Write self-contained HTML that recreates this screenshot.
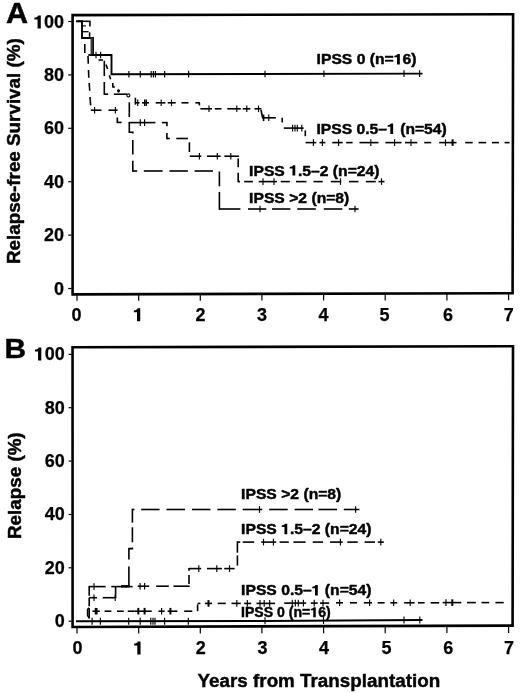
<!DOCTYPE html>
<html><head><meta charset="utf-8"><title>Figure</title>
<style>
html,body{margin:0;padding:0;background:#fff;}
body{width:520px;height:693px;overflow:hidden;font-family:"Liberation Sans",sans-serif;}
svg{display:block;}
</style></head>
<body>
<svg width="520" height="693" viewBox="0 0 520 693">
<rect x="0" y="0" width="520" height="693" fill="#fff"/>
<g stroke="#000" fill="none" stroke-linecap="butt">
<polygon points="72.6,15.1 513.1,14.3 512.6,293.2 72.6,294.4" stroke-width="2.6" stroke-linejoin="miter"/>
<polygon points="72.55,347.3 513,346.3 512.6,625.6 72.6,627" stroke-width="2.6" stroke-linejoin="miter"/>
<line x1="68.2" y1="21.5" x2="71.5" y2="21.5" stroke-width="1.2"/>
<line x1="68.2" y1="74.9" x2="71.5" y2="74.9" stroke-width="1.2"/>
<line x1="68.2" y1="128.3" x2="71.5" y2="128.3" stroke-width="1.2"/>
<line x1="68.2" y1="181.7" x2="71.5" y2="181.7" stroke-width="1.2"/>
<line x1="68.2" y1="235.1" x2="71.5" y2="235.1" stroke-width="1.2"/>
<line x1="68.2" y1="288.5" x2="71.5" y2="288.5" stroke-width="1.2"/>
<line x1="68.6" y1="354.4" x2="71.5" y2="354.4" stroke-width="1.2"/>
<line x1="68.6" y1="407.7" x2="71.5" y2="407.7" stroke-width="1.2"/>
<line x1="68.6" y1="461.1" x2="71.5" y2="461.1" stroke-width="1.2"/>
<line x1="68.6" y1="514.5" x2="71.5" y2="514.5" stroke-width="1.2"/>
<line x1="68.6" y1="567.8" x2="71.5" y2="567.8" stroke-width="1.2"/>
<line x1="68.6" y1="621.2" x2="71.5" y2="621.2" stroke-width="1.2"/>
<line x1="77.0" y1="294.5" x2="77.0" y2="300.8" stroke-width="1.2"/>
<line x1="77.0" y1="627.5" x2="77.0" y2="633.6" stroke-width="1.2"/>
<line x1="138.7" y1="294.3" x2="138.7" y2="300.7" stroke-width="1.2"/>
<line x1="138.7" y1="627.3" x2="138.7" y2="633.5" stroke-width="1.2"/>
<line x1="200.3" y1="294.2" x2="200.3" y2="300.7" stroke-width="1.2"/>
<line x1="200.3" y1="627.1" x2="200.3" y2="633.4" stroke-width="1.2"/>
<line x1="261.9" y1="294.0" x2="261.9" y2="300.6" stroke-width="1.2"/>
<line x1="261.9" y1="626.9" x2="261.9" y2="633.3" stroke-width="1.2"/>
<line x1="323.6" y1="293.8" x2="323.6" y2="300.5" stroke-width="1.2"/>
<line x1="323.6" y1="626.7" x2="323.6" y2="633.3" stroke-width="1.2"/>
<line x1="385.2" y1="293.6" x2="385.2" y2="300.4" stroke-width="1.2"/>
<line x1="385.2" y1="626.5" x2="385.2" y2="633.2" stroke-width="1.2"/>
<line x1="446.9" y1="293.5" x2="446.9" y2="300.4" stroke-width="1.2"/>
<line x1="446.9" y1="626.3" x2="446.9" y2="633.1" stroke-width="1.2"/>
<line x1="508.6" y1="293.3" x2="508.6" y2="300.3" stroke-width="1.2"/>
<line x1="508.6" y1="626.1" x2="508.6" y2="633.0" stroke-width="1.2"/>
<path d="M76.5,21.3 H82 V38 H93 V55 H111.5 V74.3 L422.5,73.6" stroke-width="1.9"/>
<line x1="128.9" y1="71.0" x2="128.9" y2="77.6" stroke-width="1.15"/>
<line x1="140.3" y1="70.9" x2="140.3" y2="77.5" stroke-width="1.15"/>
<line x1="151.2" y1="70.9" x2="151.2" y2="77.5" stroke-width="1.15"/>
<line x1="153.4" y1="70.9" x2="153.4" y2="77.5" stroke-width="1.15"/>
<line x1="155.4" y1="70.9" x2="155.4" y2="77.5" stroke-width="1.15"/>
<line x1="164.6" y1="70.9" x2="164.6" y2="77.5" stroke-width="1.15"/>
<line x1="188.6" y1="70.8" x2="188.6" y2="77.4" stroke-width="1.15"/>
<line x1="265.0" y1="70.7" x2="265.0" y2="77.3" stroke-width="1.15"/>
<line x1="323.9" y1="70.5" x2="323.9" y2="77.1" stroke-width="1.15"/>
<line x1="404.0" y1="70.3" x2="404.0" y2="76.9" stroke-width="1.15"/>
<line x1="419.6" y1="70.3" x2="419.6" y2="76.9" stroke-width="1.15"/>
<line x1="96.0" y1="51.7" x2="96.0" y2="58.3" stroke-width="1.15"/>
<line x1="100.6" y1="51.7" x2="100.6" y2="58.3" stroke-width="1.15"/>
<line x1="76.0" y1="21.3" x2="90.5" y2="21.3" stroke-width="1.6"/>
<line x1="89.9" y1="21.3" x2="89.9" y2="26.4" stroke-width="1.6"/>
<line x1="89.6" y1="32.4" x2="89.6" y2="36.8" stroke-width="1.6"/>
<line x1="82.5" y1="25.9" x2="86.0" y2="25.9" stroke-width="1.1"/>
<line x1="82.5" y1="31.7" x2="88.6" y2="31.7" stroke-width="1.3"/>
<line x1="91.7" y1="37.5" x2="91.7" y2="54.6" stroke-width="2.4" stroke="#3a3a3a"/>
<line x1="84.8" y1="43.9" x2="84.8" y2="52.9" stroke-width="1.6"/>
<line x1="88.3" y1="55.0" x2="93.0" y2="55.0" stroke-width="1.9"/>
<line x1="88.0" y1="56.0" x2="88.3" y2="63.8" stroke-width="1.6"/>
<line x1="88.5" y1="70.0" x2="88.8" y2="77.7" stroke-width="1.6"/>
<line x1="89.2" y1="83.0" x2="89.7" y2="90.8" stroke-width="1.6"/>
<line x1="90.0" y1="97.0" x2="90.6" y2="105.4" stroke-width="1.6"/>
<line x1="90.8" y1="110.2" x2="101.5" y2="110.2" stroke-width="1.6"/>
<line x1="94.6" y1="106.9" x2="94.6" y2="113.5" stroke-width="1.15"/>
<line x1="108.5" y1="110.2" x2="117.7" y2="110.2" stroke-width="1.6"/>
<line x1="115.4" y1="106.9" x2="115.4" y2="113.5" stroke-width="1.15"/>
<line x1="117.3" y1="117.5" x2="117.3" y2="123.1" stroke-width="1.6"/>
<line x1="117.3" y1="122.4" x2="121.6" y2="122.4" stroke-width="1.6"/>
<line x1="128.5" y1="122.6" x2="155.4" y2="122.6" stroke-width="1.6"/>
<line x1="140.3" y1="119.3" x2="140.3" y2="125.9" stroke-width="1.15"/>
<line x1="144.6" y1="119.3" x2="144.6" y2="125.9" stroke-width="1.15"/>
<line x1="161.8" y1="122.6" x2="167.6" y2="122.6" stroke-width="1.6"/>
<line x1="166.9" y1="122.6" x2="166.9" y2="126.2" stroke-width="1.6"/>
<line x1="166.9" y1="133.0" x2="166.9" y2="139.2" stroke-width="1.6"/>
<line x1="166.9" y1="138.5" x2="169.8" y2="138.5" stroke-width="1.6"/>
<line x1="176.3" y1="138.5" x2="187.9" y2="138.5" stroke-width="1.6"/>
<line x1="189.4" y1="142.3" x2="189.4" y2="152.0" stroke-width="1.6"/>
<line x1="189.8" y1="156.2" x2="201.3" y2="156.2" stroke-width="1.6"/>
<line x1="199.4" y1="152.9" x2="199.4" y2="159.5" stroke-width="1.15"/>
<line x1="207.0" y1="156.2" x2="220.6" y2="156.2" stroke-width="1.6"/>
<line x1="217.3" y1="152.9" x2="217.3" y2="159.5" stroke-width="1.15"/>
<line x1="224.4" y1="156.2" x2="238.9" y2="156.2" stroke-width="1.6"/>
<line x1="230.8" y1="152.9" x2="230.8" y2="159.5" stroke-width="1.15"/>
<line x1="238.2" y1="158.5" x2="238.2" y2="167.3" stroke-width="1.6"/>
<line x1="238.2" y1="172.7" x2="238.2" y2="182.3" stroke-width="1.6"/>
<line x1="238.2" y1="181.6" x2="240.0" y2="181.6" stroke-width="1.6"/>
<line x1="244.2" y1="181.6" x2="252.9" y2="181.6" stroke-width="1.6"/>
<line x1="258.7" y1="181.6" x2="277.0" y2="181.6" stroke-width="1.6"/>
<line x1="263.0" y1="178.3" x2="263.0" y2="184.9" stroke-width="1.15"/>
<line x1="274.0" y1="178.3" x2="274.0" y2="184.9" stroke-width="1.15"/>
<line x1="280.8" y1="181.6" x2="289.8" y2="181.6" stroke-width="1.6"/>
<line x1="296.0" y1="181.6" x2="306.5" y2="181.6" stroke-width="1.6"/>
<line x1="313.5" y1="181.6" x2="322.7" y2="181.6" stroke-width="1.6"/>
<line x1="330.8" y1="181.6" x2="341.2" y2="181.6" stroke-width="1.6"/>
<line x1="340.5" y1="178.3" x2="340.5" y2="184.9" stroke-width="1.15"/>
<line x1="349.0" y1="181.6" x2="358.5" y2="181.6" stroke-width="1.6"/>
<line x1="365.8" y1="181.6" x2="375.8" y2="181.6" stroke-width="1.6"/>
<line x1="381.5" y1="178.3" x2="381.5" y2="184.9" stroke-width="1.15"/>
<line x1="378.5" y1="181.6" x2="384.5" y2="181.6" stroke-width="1.6"/>
<line x1="104.3" y1="60.8" x2="104.3" y2="76.0" stroke-width="1.6"/>
<line x1="104.3" y1="82.0" x2="104.3" y2="94.9" stroke-width="1.6"/>
<line x1="104.3" y1="94.2" x2="108.2" y2="94.2" stroke-width="1.6"/>
<line x1="98.5" y1="60.0" x2="103.0" y2="60.0" stroke-width="1.6"/>
<line x1="113.8" y1="94.2" x2="127.0" y2="94.2" stroke-width="1.6"/>
<circle cx="128.4" cy="95.4" r="1.5" stroke-width="1.1"/>
<line x1="129.3" y1="102.3" x2="129.3" y2="117.0" stroke-width="1.6"/>
<path d="M129.3,123 V132.2 H132.8 V133.6" stroke-width="1.6"/>
<line x1="132.8" y1="140.0" x2="132.8" y2="154.6" stroke-width="1.6"/>
<line x1="132.8" y1="160.8" x2="132.8" y2="171.8" stroke-width="1.6"/>
<line x1="132.8" y1="171.0" x2="137.2" y2="171.0" stroke-width="1.6"/>
<line x1="143.8" y1="171.0" x2="162.6" y2="171.0" stroke-width="1.6"/>
<line x1="169.4" y1="171.0" x2="187.9" y2="171.0" stroke-width="1.6"/>
<line x1="194.6" y1="171.0" x2="212.9" y2="171.0" stroke-width="1.6"/>
<line x1="219.4" y1="171.5" x2="219.4" y2="186.3" stroke-width="1.6"/>
<line x1="219.4" y1="192.0" x2="219.4" y2="209.8" stroke-width="1.6"/>
<line x1="219.4" y1="209.0" x2="240.4" y2="209.0" stroke-width="1.6"/>
<line x1="248.0" y1="209.0" x2="266.3" y2="209.0" stroke-width="1.6"/>
<line x1="260.0" y1="205.7" x2="260.0" y2="212.3" stroke-width="1.15"/>
<line x1="272.0" y1="209.0" x2="290.4" y2="209.0" stroke-width="1.6"/>
<line x1="297.3" y1="209.0" x2="315.8" y2="209.0" stroke-width="1.6"/>
<line x1="323.8" y1="209.0" x2="342.3" y2="209.0" stroke-width="1.6"/>
<line x1="348.8" y1="209.0" x2="358.6" y2="209.0" stroke-width="1.6"/>
<line x1="355.0" y1="205.7" x2="355.0" y2="212.3" stroke-width="1.15"/>
<line x1="106.0" y1="64.6" x2="107.6" y2="69.0" stroke-width="1.6"/>
<line x1="109.3" y1="75.4" x2="110.7" y2="79.2" stroke-width="1.6"/>
<line x1="112.8" y1="83.0" x2="112.8" y2="87.4" stroke-width="1.6"/>
<line x1="112.8" y1="87.0" x2="114.8" y2="87.0" stroke-width="1.6"/>
<line x1="118.5" y1="89.2" x2="118.5" y2="92.6" stroke-width="1.6"/>
<line x1="117.0" y1="90.8" x2="120.0" y2="90.8" stroke-width="1.6"/>
<line x1="135.4" y1="97.7" x2="135.4" y2="104.6" stroke-width="1.6"/>
<line x1="135.4" y1="102.8" x2="139.5" y2="102.8" stroke-width="1.6"/>
<line x1="137.7" y1="99.5" x2="137.7" y2="106.1" stroke-width="1.15"/>
<line x1="142.0" y1="102.8" x2="149.0" y2="102.8" stroke-width="1.6"/>
<line x1="144.7" y1="99.5" x2="144.7" y2="106.1" stroke-width="1.4"/>
<line x1="146.3" y1="99.5" x2="146.3" y2="106.1" stroke-width="1.4"/>
<line x1="155.7" y1="102.8" x2="165.4" y2="102.8" stroke-width="1.6"/>
<line x1="161.2" y1="99.5" x2="161.2" y2="106.1" stroke-width="1.15"/>
<line x1="167.7" y1="102.8" x2="175.7" y2="102.8" stroke-width="1.6"/>
<line x1="171.5" y1="99.5" x2="171.5" y2="106.1" stroke-width="1.15"/>
<line x1="181.5" y1="102.8" x2="188.5" y2="102.8" stroke-width="1.6"/>
<line x1="195.4" y1="102.8" x2="199.9" y2="102.8" stroke-width="1.6"/>
<line x1="199.4" y1="102.8" x2="199.4" y2="105.4" stroke-width="1.6"/>
<line x1="200.4" y1="108.8" x2="212.0" y2="108.8" stroke-width="1.6"/>
<line x1="209.0" y1="105.5" x2="209.0" y2="112.1" stroke-width="1.15"/>
<line x1="214.8" y1="108.8" x2="221.5" y2="108.8" stroke-width="1.6"/>
<line x1="227.3" y1="108.8" x2="240.8" y2="108.8" stroke-width="1.6"/>
<line x1="236.8" y1="105.5" x2="236.8" y2="112.1" stroke-width="1.15"/>
<line x1="242.7" y1="108.8" x2="250.4" y2="108.8" stroke-width="1.6"/>
<line x1="246.8" y1="105.5" x2="246.8" y2="112.1" stroke-width="1.15"/>
<line x1="254.5" y1="108.8" x2="261.5" y2="108.8" stroke-width="1.6"/>
<line x1="258.5" y1="105.5" x2="258.5" y2="112.1" stroke-width="1.15"/>
<line x1="261.0" y1="110.0" x2="262.6" y2="117.7" stroke-width="1.6"/>
<line x1="262.0" y1="117.8" x2="275.8" y2="117.8" stroke-width="1.6"/>
<line x1="263.6" y1="114.5" x2="263.6" y2="121.1" stroke-width="1.6"/>
<line x1="268.8" y1="114.5" x2="268.8" y2="121.1" stroke-width="1.15"/>
<line x1="282.2" y1="117.7" x2="282.2" y2="122.5" stroke-width="1.6"/>
<line x1="283.8" y1="128.1" x2="303.6" y2="128.1" stroke-width="1.6"/>
<line x1="292.6" y1="124.8" x2="292.6" y2="131.4" stroke-width="1.15"/>
<line x1="295.0" y1="124.8" x2="295.0" y2="131.4" stroke-width="1.15"/>
<line x1="297.3" y1="124.8" x2="297.3" y2="131.4" stroke-width="1.15"/>
<line x1="301.8" y1="124.8" x2="301.8" y2="131.4" stroke-width="1.15"/>
<line x1="305.3" y1="130.4" x2="305.3" y2="136.2" stroke-width="1.6"/>
<line x1="305.6" y1="142.6" x2="316.2" y2="142.6" stroke-width="1.6"/>
<line x1="313.4" y1="139.3" x2="313.4" y2="145.9" stroke-width="1.15"/>
<line x1="319.5" y1="142.6" x2="325.4" y2="142.6" stroke-width="1.6"/>
<line x1="322.4" y1="139.3" x2="322.4" y2="145.9" stroke-width="1.15"/>
<line x1="332.3" y1="142.6" x2="342.7" y2="142.6" stroke-width="1.6"/>
<line x1="338.6" y1="139.3" x2="338.6" y2="145.9" stroke-width="1.15"/>
<line x1="346.2" y1="142.6" x2="352.6" y2="142.6" stroke-width="1.6"/>
<line x1="359.5" y1="142.6" x2="378.5" y2="142.6" stroke-width="1.6"/>
<line x1="370.8" y1="139.3" x2="370.8" y2="145.9" stroke-width="1.15"/>
<line x1="385.4" y1="142.6" x2="401.5" y2="142.6" stroke-width="1.6"/>
<line x1="394.6" y1="139.3" x2="394.6" y2="145.9" stroke-width="1.15"/>
<line x1="405.0" y1="142.6" x2="417.3" y2="142.6" stroke-width="1.6"/>
<line x1="411.0" y1="139.3" x2="411.0" y2="145.9" stroke-width="1.15"/>
<line x1="424.2" y1="142.6" x2="431.2" y2="142.6" stroke-width="1.6"/>
<line x1="439.2" y1="142.6" x2="456.5" y2="142.6" stroke-width="1.6"/>
<line x1="445.5" y1="139.3" x2="445.5" y2="145.9" stroke-width="1.15"/>
<line x1="452.6" y1="139.3" x2="452.6" y2="145.9" stroke-width="2.0"/>
<line x1="465.2" y1="142.6" x2="472.7" y2="142.6" stroke-width="1.6"/>
<line x1="478.5" y1="142.6" x2="486.2" y2="142.6" stroke-width="1.6"/>
<line x1="492.0" y1="142.6" x2="499.0" y2="142.6" stroke-width="1.6"/>
<line x1="504.6" y1="142.6" x2="509.6" y2="142.6" stroke-width="1.6"/>
<path d="M76,621.2 L265,621 L422.5,620" stroke-width="1.9"/>
<line x1="92.1" y1="617.7" x2="92.1" y2="624.7" stroke-width="1.15"/>
<line x1="100.4" y1="617.7" x2="100.4" y2="624.7" stroke-width="1.15"/>
<line x1="128.7" y1="617.7" x2="128.7" y2="624.7" stroke-width="1.15"/>
<line x1="140.2" y1="617.7" x2="140.2" y2="624.7" stroke-width="1.15"/>
<line x1="150.8" y1="617.7" x2="150.8" y2="624.7" stroke-width="1.15"/>
<line x1="153.0" y1="617.7" x2="153.0" y2="624.7" stroke-width="1.15"/>
<line x1="155.0" y1="617.7" x2="155.0" y2="624.7" stroke-width="1.15"/>
<line x1="164.6" y1="617.7" x2="164.6" y2="624.7" stroke-width="1.15"/>
<line x1="188.3" y1="617.7" x2="188.3" y2="624.7" stroke-width="1.15"/>
<line x1="265.0" y1="617.3" x2="265.0" y2="624.3" stroke-width="1.15"/>
<line x1="323.5" y1="617.0" x2="323.5" y2="624.0" stroke-width="1.15"/>
<line x1="404.0" y1="616.6" x2="404.0" y2="623.6" stroke-width="1.15"/>
<line x1="419.8" y1="616.5" x2="419.8" y2="623.5" stroke-width="1.15"/>
<path d="M89.6,618.6 L87.6,615.6 V609.6 L89,607.8" stroke-width="1.6"/>
<line x1="92.5" y1="611.2" x2="99.8" y2="611.2" stroke-width="1.6"/>
<line x1="95.5" y1="607.9" x2="95.5" y2="614.5" stroke-width="1.5"/>
<line x1="96.8" y1="607.9" x2="96.8" y2="614.5" stroke-width="1.5"/>
<line x1="104.6" y1="611.2" x2="111.3" y2="611.2" stroke-width="1.6"/>
<line x1="117.0" y1="611.2" x2="123.8" y2="611.2" stroke-width="1.6"/>
<line x1="127.7" y1="611.2" x2="134.4" y2="611.2" stroke-width="1.6"/>
<line x1="134.4" y1="611.2" x2="151.7" y2="611.2" stroke-width="1.6"/>
<line x1="138.3" y1="607.9" x2="138.3" y2="614.5" stroke-width="2.0"/>
<line x1="144.6" y1="607.9" x2="144.6" y2="614.5" stroke-width="2.0"/>
<line x1="158.5" y1="611.2" x2="164.6" y2="611.2" stroke-width="1.6"/>
<line x1="161.6" y1="607.9" x2="161.6" y2="614.5" stroke-width="1.15"/>
<line x1="167.6" y1="611.2" x2="177.3" y2="611.2" stroke-width="1.6"/>
<line x1="170.4" y1="607.9" x2="170.4" y2="614.5" stroke-width="2.0"/>
<line x1="184.2" y1="611.2" x2="192.3" y2="611.2" stroke-width="1.6"/>
<line x1="197.6" y1="604.4" x2="197.6" y2="611.2" stroke-width="1.6"/>
<line x1="197.6" y1="603.4" x2="200.4" y2="603.4" stroke-width="1.6"/>
<line x1="205.0" y1="603.4" x2="212.0" y2="603.4" stroke-width="1.6"/>
<line x1="208.5" y1="600.1" x2="208.5" y2="606.7" stroke-width="2.0"/>
<line x1="217.7" y1="603.4" x2="225.8" y2="603.4" stroke-width="1.6"/>
<line x1="231.5" y1="603.4" x2="240.8" y2="603.4" stroke-width="1.6"/>
<line x1="236.8" y1="600.1" x2="236.8" y2="606.7" stroke-width="1.15"/>
<line x1="244.2" y1="603.4" x2="251.2" y2="603.4" stroke-width="1.6"/>
<line x1="247.3" y1="600.1" x2="247.3" y2="606.7" stroke-width="1.15"/>
<line x1="256.5" y1="603.4" x2="275.0" y2="603.4" stroke-width="1.6"/>
<line x1="260.0" y1="600.1" x2="260.0" y2="606.7" stroke-width="1.15"/>
<line x1="264.2" y1="600.1" x2="264.2" y2="606.7" stroke-width="1.15"/>
<line x1="269.7" y1="600.1" x2="269.7" y2="606.7" stroke-width="1.15"/>
<line x1="284.2" y1="603.1" x2="306.2" y2="603.1" stroke-width="1.6"/>
<line x1="292.3" y1="599.8" x2="292.3" y2="606.4" stroke-width="1.15"/>
<line x1="295.3" y1="599.8" x2="295.3" y2="606.4" stroke-width="1.15"/>
<line x1="298.3" y1="599.8" x2="298.3" y2="606.4" stroke-width="1.15"/>
<line x1="303.4" y1="599.8" x2="303.4" y2="606.4" stroke-width="1.15"/>
<line x1="310.8" y1="603.1" x2="317.7" y2="603.1" stroke-width="1.6"/>
<line x1="314.2" y1="599.8" x2="314.2" y2="606.4" stroke-width="1.15"/>
<line x1="320.0" y1="603.1" x2="329.2" y2="603.1" stroke-width="1.6"/>
<line x1="323.0" y1="599.8" x2="323.0" y2="606.4" stroke-width="1.15"/>
<line x1="336.0" y1="602.8" x2="343.0" y2="602.8" stroke-width="1.6"/>
<line x1="339.6" y1="599.5" x2="339.6" y2="606.1" stroke-width="1.15"/>
<line x1="350.0" y1="602.8" x2="357.0" y2="602.8" stroke-width="1.6"/>
<line x1="363.8" y1="602.8" x2="372.0" y2="602.8" stroke-width="1.6"/>
<line x1="369.6" y1="599.5" x2="369.6" y2="606.1" stroke-width="1.15"/>
<line x1="377.7" y1="602.8" x2="384.6" y2="602.8" stroke-width="1.6"/>
<line x1="390.4" y1="602.8" x2="397.3" y2="602.8" stroke-width="1.6"/>
<line x1="393.7" y1="599.5" x2="393.7" y2="606.1" stroke-width="1.15"/>
<line x1="404.2" y1="602.8" x2="414.6" y2="602.8" stroke-width="1.6"/>
<line x1="410.2" y1="599.5" x2="410.2" y2="606.1" stroke-width="1.15"/>
<line x1="418.0" y1="602.8" x2="424.6" y2="602.8" stroke-width="1.6"/>
<line x1="430.6" y1="602.8" x2="439.2" y2="602.8" stroke-width="1.6"/>
<line x1="442.7" y1="602.6" x2="461.3" y2="602.6" stroke-width="1.6"/>
<line x1="446.0" y1="599.3" x2="446.0" y2="605.9" stroke-width="1.15"/>
<line x1="452.3" y1="599.3" x2="452.3" y2="605.9" stroke-width="2.0"/>
<line x1="467.0" y1="602.6" x2="475.8" y2="602.6" stroke-width="1.6"/>
<line x1="481.5" y1="602.6" x2="489.2" y2="602.6" stroke-width="1.6"/>
<line x1="495.4" y1="602.6" x2="503.7" y2="602.6" stroke-width="1.6"/>
<line x1="89.2" y1="597.7" x2="97.0" y2="597.7" stroke-width="1.6"/>
<line x1="94.0" y1="594.4" x2="94.0" y2="601.0" stroke-width="1.15"/>
<line x1="102.7" y1="597.7" x2="116.3" y2="597.7" stroke-width="1.6"/>
<line x1="115.2" y1="594.4" x2="115.2" y2="601.0" stroke-width="1.15"/>
<line x1="115.6" y1="586.2" x2="115.6" y2="597.7" stroke-width="1.6"/>
<line x1="137.7" y1="586.2" x2="149.2" y2="586.2" stroke-width="1.6"/>
<line x1="140.1" y1="582.9" x2="140.1" y2="589.5" stroke-width="1.15"/>
<line x1="144.6" y1="582.9" x2="144.6" y2="589.5" stroke-width="1.15"/>
<line x1="156.2" y1="586.2" x2="168.8" y2="586.2" stroke-width="1.6"/>
<line x1="173.5" y1="586.2" x2="189.7" y2="586.2" stroke-width="1.6"/>
<line x1="189.0" y1="575.0" x2="189.0" y2="584.0" stroke-width="1.6"/>
<line x1="189.0" y1="567.9" x2="189.0" y2="570.8" stroke-width="1.6"/>
<line x1="189.0" y1="568.6" x2="201.2" y2="568.6" stroke-width="1.6"/>
<line x1="198.8" y1="565.3" x2="198.8" y2="571.9" stroke-width="1.15"/>
<line x1="207.0" y1="568.6" x2="222.0" y2="568.6" stroke-width="1.6"/>
<line x1="216.8" y1="565.3" x2="216.8" y2="571.9" stroke-width="1.15"/>
<line x1="224.2" y1="568.6" x2="234.6" y2="568.6" stroke-width="1.6"/>
<line x1="229.5" y1="565.3" x2="229.5" y2="571.9" stroke-width="1.15"/>
<line x1="237.4" y1="555.4" x2="237.4" y2="565.6" stroke-width="1.6"/>
<line x1="237.4" y1="541.3" x2="237.4" y2="552.7" stroke-width="1.6"/>
<line x1="237.4" y1="542.1" x2="240.2" y2="542.1" stroke-width="1.6"/>
<line x1="242.7" y1="542.1" x2="254.2" y2="542.1" stroke-width="1.6"/>
<line x1="261.2" y1="542.1" x2="276.2" y2="542.1" stroke-width="1.6"/>
<line x1="263.5" y1="538.8" x2="263.5" y2="545.4" stroke-width="1.15"/>
<line x1="273.4" y1="538.8" x2="273.4" y2="545.4" stroke-width="1.15"/>
<line x1="279.6" y1="542.1" x2="288.8" y2="542.1" stroke-width="1.6"/>
<line x1="293.5" y1="542.1" x2="305.6" y2="542.1" stroke-width="1.6"/>
<line x1="312.7" y1="542.1" x2="323.0" y2="542.1" stroke-width="1.6"/>
<line x1="330.0" y1="542.1" x2="342.7" y2="542.1" stroke-width="1.6"/>
<line x1="340.4" y1="538.8" x2="340.4" y2="545.4" stroke-width="1.15"/>
<line x1="347.3" y1="542.1" x2="357.7" y2="542.1" stroke-width="1.6"/>
<line x1="364.6" y1="542.1" x2="375.0" y2="542.1" stroke-width="1.6"/>
<line x1="380.8" y1="538.8" x2="380.8" y2="545.4" stroke-width="1.15"/>
<line x1="377.8" y1="542.1" x2="383.8" y2="542.1" stroke-width="1.6"/>
<line x1="89.2" y1="587.0" x2="89.2" y2="595.8" stroke-width="1.6"/>
<line x1="89.2" y1="597.7" x2="89.2" y2="606.3" stroke-width="1.6"/>
<line x1="89.2" y1="608.3" x2="89.2" y2="617.5" stroke-width="1.6"/>
<line x1="88.4" y1="586.6" x2="105.6" y2="586.6" stroke-width="1.6"/>
<line x1="94.0" y1="583.3" x2="94.0" y2="589.9" stroke-width="1.15"/>
<line x1="111.3" y1="586.6" x2="132.6" y2="586.6" stroke-width="1.6"/>
<line x1="121.0" y1="586.3" x2="129.6" y2="586.3" stroke-width="2.4"/>
<line x1="128.9" y1="566.5" x2="128.9" y2="586.0" stroke-width="1.6"/>
<path d="M128.9,559.6 V548.6 H132.4 V547.6" stroke-width="1.6"/>
<line x1="132.4" y1="527.3" x2="132.4" y2="542.3" stroke-width="1.6"/>
<line x1="132.4" y1="508.7" x2="132.4" y2="522.7" stroke-width="1.6"/>
<line x1="132.4" y1="509.5" x2="134.4" y2="509.5" stroke-width="1.6"/>
<line x1="141.2" y1="509.5" x2="159.6" y2="509.5" stroke-width="1.6"/>
<line x1="166.5" y1="509.5" x2="185.0" y2="509.5" stroke-width="1.6"/>
<line x1="192.0" y1="509.5" x2="210.4" y2="509.5" stroke-width="1.6"/>
<line x1="217.3" y1="509.5" x2="235.8" y2="509.5" stroke-width="1.6"/>
<line x1="242.7" y1="509.5" x2="262.3" y2="509.5" stroke-width="1.6"/>
<line x1="259.5" y1="506.2" x2="259.5" y2="512.8" stroke-width="1.15"/>
<line x1="269.2" y1="509.5" x2="287.7" y2="509.5" stroke-width="1.6"/>
<line x1="294.6" y1="509.5" x2="313.0" y2="509.5" stroke-width="1.6"/>
<line x1="318.5" y1="509.5" x2="337.0" y2="509.5" stroke-width="1.6"/>
<line x1="343.8" y1="509.5" x2="359.4" y2="509.5" stroke-width="1.6"/>
<line x1="355.6" y1="506.2" x2="355.6" y2="512.8" stroke-width="1.15"/>
</g>
<g font-family="'Liberation Sans', sans-serif" font-weight="bold" fill="#000" stroke="#000" stroke-width="0.45" stroke-linejoin="round" style="opacity:0.999">
<text transform="translate(64.10,28.40) scale(1.0,1)" font-size="18.0" text-anchor="end"  stroke-width="0.25">00</text>
<path transform="translate(40.80,28.50) scale(1.000,1.000)" stroke="none" d="M0,0 V-13.0 H-2.5 C-2.9,-11.9 -4.5,-11.0 -6.4,-10.9 V-9.0 H-3.25 V0 Z"/>
<text transform="translate(64.10,81.00) scale(1.0,1)" font-size="18.0" text-anchor="end"  stroke-width="0.25">80</text>
<text transform="translate(64.10,134.40) scale(1.0,1)" font-size="18.0" text-anchor="end"  stroke-width="0.25">60</text>
<text transform="translate(64.10,187.80) scale(1.0,1)" font-size="18.0" text-anchor="end"  stroke-width="0.25">40</text>
<text transform="translate(64.10,241.20) scale(1.0,1)" font-size="18.0" text-anchor="end"  stroke-width="0.25">20</text>
<text transform="translate(64.10,294.60) scale(1.0,1)" font-size="18.0" text-anchor="end"  stroke-width="0.25">0</text>
<text transform="translate(64.80,360.35) scale(1.0,1)" font-size="18.0" text-anchor="end"  stroke-width="0.25">00</text>
<path transform="translate(41.30,360.45) scale(1.000,1.000)" stroke="none" d="M0,0 V-13.0 H-2.5 C-2.9,-11.9 -4.5,-11.0 -6.4,-10.9 V-9.0 H-3.25 V0 Z"/>
<text transform="translate(64.80,413.72) scale(1.0,1)" font-size="18.0" text-anchor="end"  stroke-width="0.25">80</text>
<text transform="translate(64.80,467.09) scale(1.0,1)" font-size="18.0" text-anchor="end"  stroke-width="0.25">60</text>
<text transform="translate(64.80,520.46) scale(1.0,1)" font-size="18.0" text-anchor="end"  stroke-width="0.25">40</text>
<text transform="translate(64.80,573.83) scale(1.0,1)" font-size="18.0" text-anchor="end"  stroke-width="0.25">20</text>
<text transform="translate(64.80,627.20) scale(1.0,1)" font-size="18.0" text-anchor="end"  stroke-width="0.25">0</text>
<text transform="translate(76.60,320.50) scale(1.0,1)" font-size="18.0" text-anchor="middle"  stroke-width="0.25">0</text>
<text transform="translate(77.50,653.70) scale(1.0,1)" font-size="18.0" text-anchor="middle"  stroke-width="0.25">0</text>
<path transform="translate(140.25,321.30) scale(1.000,1.000)" stroke="none" d="M0,0 V-13.0 H-2.5 C-2.9,-11.9 -4.5,-11.0 -6.4,-10.9 V-9.0 H-3.25 V0 Z"/>
<path transform="translate(140.55,654.40) scale(1.000,1.000)" stroke="none" d="M0,0 V-13.0 H-2.5 C-2.9,-11.9 -4.5,-11.0 -6.4,-10.9 V-9.0 H-3.25 V0 Z"/>
<text transform="translate(200.40,320.50) scale(1.0,1)" font-size="18.0" text-anchor="middle"  stroke-width="0.25">2</text>
<text transform="translate(200.80,653.70) scale(1.0,1)" font-size="18.0" text-anchor="middle"  stroke-width="0.25">2</text>
<text transform="translate(262.05,320.50) scale(1.0,1)" font-size="18.0" text-anchor="middle"  stroke-width="0.25">3</text>
<text transform="translate(262.45,653.70) scale(1.0,1)" font-size="18.0" text-anchor="middle"  stroke-width="0.25">3</text>
<text transform="translate(323.40,320.50) scale(1.0,1)" font-size="18.0" text-anchor="middle"  stroke-width="0.25">4</text>
<text transform="translate(324.10,653.70) scale(1.0,1)" font-size="18.0" text-anchor="middle"  stroke-width="0.25">4</text>
<text transform="translate(384.45,320.50) scale(1.0,1)" font-size="18.0" text-anchor="middle"  stroke-width="0.25">5</text>
<text transform="translate(386.55,653.70) scale(1.0,1)" font-size="18.0" text-anchor="middle"  stroke-width="0.25">5</text>
<text transform="translate(447.90,320.50) scale(1.0,1)" font-size="18.0" text-anchor="middle"  stroke-width="0.25">6</text>
<text transform="translate(448.20,653.70) scale(1.0,1)" font-size="18.0" text-anchor="middle"  stroke-width="0.25">6</text>
<text transform="translate(508.75,320.50) scale(1.0,1)" font-size="18.0" text-anchor="middle"  stroke-width="0.25">7</text>
<text transform="translate(509.05,653.70) scale(1.0,1)" font-size="18.0" text-anchor="middle"  stroke-width="0.25">7</text>
<text transform="translate(5.90,22.80) scale(1.07,1)" font-size="28.6" text-anchor="start" >A</text>
<text transform="translate(4.50,358.10) scale(1.06,1)" font-size="28.2" text-anchor="start" >B</text>
<text transform="translate(316.60,64.40) scale(1.075,1)" font-size="14.6" text-anchor="start" >IPSS&#160;0&#160;(n=</text>
<path transform="translate(399.84,64.50) scale(0.862,0.802)" stroke="none" d="M0,0 V-13.0 H-2.5 C-2.9,-11.9 -4.5,-11.0 -6.4,-10.9 V-9.0 H-3.25 V0 Z"/>
<text transform="translate(402.53,64.40) scale(1.075,1)" font-size="14.6" text-anchor="start" >6)</text>
<text transform="translate(316.40,133.90) scale(1.075,1)" font-size="14.6" text-anchor="start" >IPSS&#160;0.5–</text>
<path transform="translate(393.12,134.00) scale(0.862,0.802)" stroke="none" d="M0,0 V-13.0 H-2.5 C-2.9,-11.9 -4.5,-11.0 -6.4,-10.9 V-9.0 H-3.25 V0 Z"/>
<text transform="translate(395.80,133.90) scale(1.075,1)" font-size="14.6" text-anchor="start" >&#160;(n=54)</text>
<text transform="translate(249.10,175.50) scale(1.075,1)" font-size="14.6" text-anchor="start" >IPSS&#160;</text>
<path transform="translate(295.27,175.60) scale(0.862,0.802)" stroke="none" d="M0,0 V-13.0 H-2.5 C-2.9,-11.9 -4.5,-11.0 -6.4,-10.9 V-9.0 H-3.25 V0 Z"/>
<text transform="translate(297.96,175.50) scale(1.075,1)" font-size="14.6" text-anchor="start" >.5–2&#160;(n=24)</text>
<text transform="translate(249.10,202.90) scale(1.075,1)" font-size="14.6" text-anchor="start" >IPSS&#160;&gt;2&#160;(n=8)</text>
<text transform="translate(241.10,499.00) scale(1.075,1)" font-size="14.6" text-anchor="start" >IPSS&#160;&gt;2&#160;(n=8)</text>
<text transform="translate(241.10,534.20) scale(1.075,1)" font-size="14.6" text-anchor="start" >IPSS&#160;</text>
<path transform="translate(287.27,534.30) scale(0.862,0.802)" stroke="none" d="M0,0 V-13.0 H-2.5 C-2.9,-11.9 -4.5,-11.0 -6.4,-10.9 V-9.0 H-3.25 V0 Z"/>
<text transform="translate(289.96,534.20) scale(1.075,1)" font-size="14.6" text-anchor="start" >.5–2&#160;(n=24)</text>
<text transform="translate(241.10,595.30) scale(1.075,1)" font-size="14.6" text-anchor="start" >IPSS&#160;0.5–</text>
<path transform="translate(317.82,595.40) scale(0.862,0.802)" stroke="none" d="M0,0 V-13.0 H-2.5 C-2.9,-11.9 -4.5,-11.0 -6.4,-10.9 V-9.0 H-3.25 V0 Z"/>
<text transform="translate(320.50,595.30) scale(1.075,1)" font-size="14.6" text-anchor="start" >&#160;(n=54)</text>
<text transform="translate(241.00,617.20) scale(1.0,1)" font-size="14.1" text-anchor="start" >IPSS&#160;0&#160;(n=</text>
<path transform="translate(315.78,617.30) scale(0.774,0.774)" stroke="none" d="M0,0 V-13.0 H-2.5 C-2.9,-11.9 -4.5,-11.0 -6.4,-10.9 V-9.0 H-3.25 V0 Z"/>
<text transform="translate(318.19,617.20) scale(1.0,1)" font-size="14.1" text-anchor="start" >6)</text>
<text transform="translate(197.60,687.00) scale(1.0,1)" font-size="18.82" text-anchor="start" >Years from Transplantation</text>
<text transform="translate(20.2,264.1) rotate(-90)" font-size="18.82">Relapse-free Survival (%)</text>
<text transform="translate(21.2,539) rotate(-90)" font-size="18.82">Relapse (%)</text>
</g>
</svg>
</body></html>
